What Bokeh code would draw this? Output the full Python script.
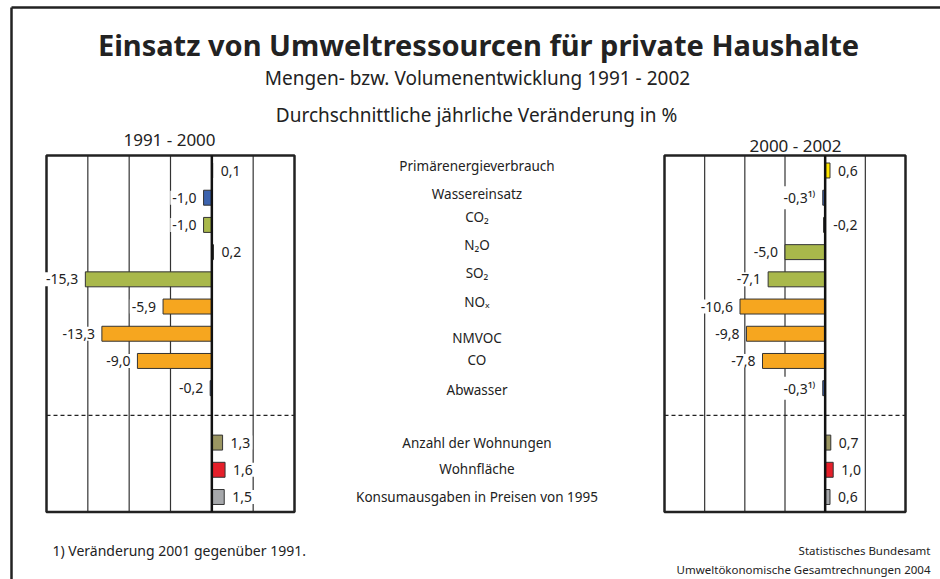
from bokeh.plotting import figure
from bokeh.models import Range1d, ColumnDataSource
from bokeh.core.properties import value
from bokeh.embed import file_html
from bokeh.resources import INLINE

# ---------------- data ----------------
categories = ["Primärenergieverbrauch", "Wassereinsatz", "CO₂", "N₂O", "SO₂", "NOₓ",
              "NMVOC", "CO", "Abwasser", "Anzahl der Wohnungen", "Wohnfläche",
              "Konsumausgaben in Preisen von 1995"]
rows = [0, 1, 2, 3, 4, 5, 6, 7, 8, 10, 11, 12]          # slot 9 = separator
vals_1991_2000 = [0.1, -1.0, -1.0, 0.2, -15.3, -5.9, -13.3, -9.0, -0.2, 1.3, 1.6, 1.5]
vals_2000_2002 = [0.6, -0.3, -0.2, -5.0, -7.1, -10.6, -9.8, -7.8, -0.3, 0.7, 1.0, 0.6]
notes_1991_2000 = [""] * 12
notes_2000_2002 = ["", "¹⁾", "", "", "", "", "", "", "¹⁾", "", "", ""]
side_1991_2000 = ["r", "l", "l", "r", "l", "l", "l", "l", "l", "r", "r", "r"]
side_2000_2002 = ["r", "l", "r", "l", "l", "l", "l", "l", "l", "r", "r", "r"]
grid_ticks = [-15, -10, -5, 5]
x_min, x_max = -20, 10
sep_row = 9

bar_colors = ["#ffe500", "#3c63ae", "#a9b84b", "#a9b84b", "#a9b84b", "#f6a61f",
              "#f6a61f", "#f6a61f", "#3c63ae", "#9b9662", "#e51f2a", "#a6a8ab"]

# small vertical nudges (px) of the category labels, as in the original layout
cat_label_dy = [-5, -4, -8, -7, -6, -5, 4, -1, 1.5, 0, -1, -0.5]

FONT = "Noto Sans"
INK = "#222222"

# ---------------- layout (canvas pixels) ----------------
W, H = 940, 579
L_px = (46, 294)
R_px = (664, 905)
row0_px, row12_px = 170, 496.5


def panel_range(px0, px1):
    u = (x_max - x_min) / (px1 - px0)
    start = x_min - px0 * u
    return Range1d(start, start + W * u)


p_row = (row12_px - row0_px) / 12.0
top_val = -row0_px / p_row
rows_range = Range1d(start=top_val + H / p_row, end=top_val)

p = figure(width=W, height=H, x_range=Range1d(0, W), y_range=Range1d(H, 0),
           output_backend="svg", toolbar_location=None, min_border=0,
           x_axis_location=None, y_axis_location=None, title=None,
           outline_line_color=None, background_fill_color="white",
           border_fill_color="white")
p.grid.grid_line_color = None
p.extra_x_ranges = {"L": panel_range(*L_px), "R": panel_range(*R_px)}
p.extra_y_ranges = {"rows": rows_range}

# outer frame (left and top edge)
p.segment(x0=[11, 11], y0=[7, 7], x1=[11, W], y1=[H, 7], line_color=INK, line_width=2.5)

# titles
p.text(x=[478], y=[44], text=["Einsatz von Umweltressourcen für private Haushalte"],
       text_font=value(FONT), text_font_size="29px", text_font_style="bold",
       text_color=INK, text_align="center", text_baseline="alphabetic")
p.text(x=[477], y=[77], text=["Mengen- bzw. Volumenentwicklung 1991 - 2002"],
       text_font=value(FONT), text_font_size="19px", text_color=INK,
       text_align="center", text_baseline="alphabetic")
p.text(x=[476], y=[114], text=["Durchschnittliche jährliche Veränderung in %"],
       text_font=value(FONT), text_font_size="19px", text_color=INK,
       text_align="center", text_baseline="alphabetic")
p.text(x=[169], y=[139], text=["1991 - 2000"], text_font=value(FONT),
       text_font_size="17px", text_color=INK, text_align="center",
       text_baseline="alphabetic")
p.text(x=[795], y=[145], text=["2000 - 2002"], text_font=value(FONT),
       text_font_size="17px", text_color=INK, text_align="center",
       text_baseline="alphabetic")


def fmt(v, note):
    return f"{v:.1f}".replace(".", ",") + note


def panel(rname, vals, notes, sides):
    y_top, y_bot = -0.55, 12.55
    # grid lines
    p.segment(x0=grid_ticks, x1=grid_ticks, y0=[y_top] * len(grid_ticks),
              y1=[y_bot] * len(grid_ticks), line_color="#333333", line_width=1.2,
              x_range_name=rname, y_range_name="rows")
    # dashed separator
    p.segment(x0=[x_min], x1=[x_max], y0=[sep_row], y1=[sep_row],
              line_color=INK, line_width=1.2, line_dash="4 3",
              x_range_name=rname, y_range_name="rows")
    # box
    p.quad(left=[x_min], right=[x_max], top=[y_top], bottom=[y_bot],
           fill_color=None, line_color=INK, line_width=2.5,
           x_range_name=rname, y_range_name="rows")
    src = ColumnDataSource(dict(row=rows, val=vals, color=bar_colors))
    p.hbar(y="row", left=0, right="val", height=0.55, fill_color="color",
           line_color="#333333", line_width=1, source=src,
           x_range_name=rname, y_range_name="rows")
    # zero line
    p.segment(x0=[0], x1=[0], y0=[y_top], y1=[y_bot], line_color="#111111",
              line_width=2.5, x_range_name=rname, y_range_name="rows")
    # value labels
    for side, align, off in (("r", "left", 6), ("l", "right", -5)):
        idx = [i for i, s in enumerate(sides) if s == side]
        s2 = ColumnDataSource(dict(
            x=[max(vals[i], 0) if side == "r" else min(vals[i], 0) for i in idx],
            y=[rows[i] for i in idx],
            t=[fmt(vals[i], notes[i]) for i in idx]))
        p.text(x="x", y="y", text="t", source=s2, x_offset=off,
               text_align=align, text_baseline="middle",
               text_font=value(FONT), text_font_size="14px", text_color=INK,
               background_fill_color="white", padding=2,
               x_range_name=rname, y_range_name="rows")


panel("L", vals_1991_2000, notes_1991_2000, side_1991_2000)
panel("R", vals_2000_2002, notes_2000_2002, side_2000_2002)

# category labels in the middle
cat_src = ColumnDataSource(dict(y=rows, t=categories, dy=cat_label_dy))
p.text(x=476.5, y="y", text="t", y_offset="dy", source=cat_src,
       text_font=value(FONT), text_font_size="13.5px", text_color=INK,
       text_align="center", text_baseline="middle", y_range_name="rows")

# footer
p.text(x=[52], y=[550], text=["1) Veränderung 2001 gegenüber 1991."],
       text_font=value(FONT), text_font_size="14px", text_color=INK,
       text_align="left", text_baseline="alphabetic")
p.text(x=[930, 930], y=[550, 569],
       text=["Statistisches Bundesamt", "Umweltökonomische Gesamtrechnungen 2004"],
       text_font=value(FONT), text_font_size="11.5px", text_color=INK,
       text_align="right", text_baseline="alphabetic")

open("out.html", "w").write(file_html(p, INLINE))
